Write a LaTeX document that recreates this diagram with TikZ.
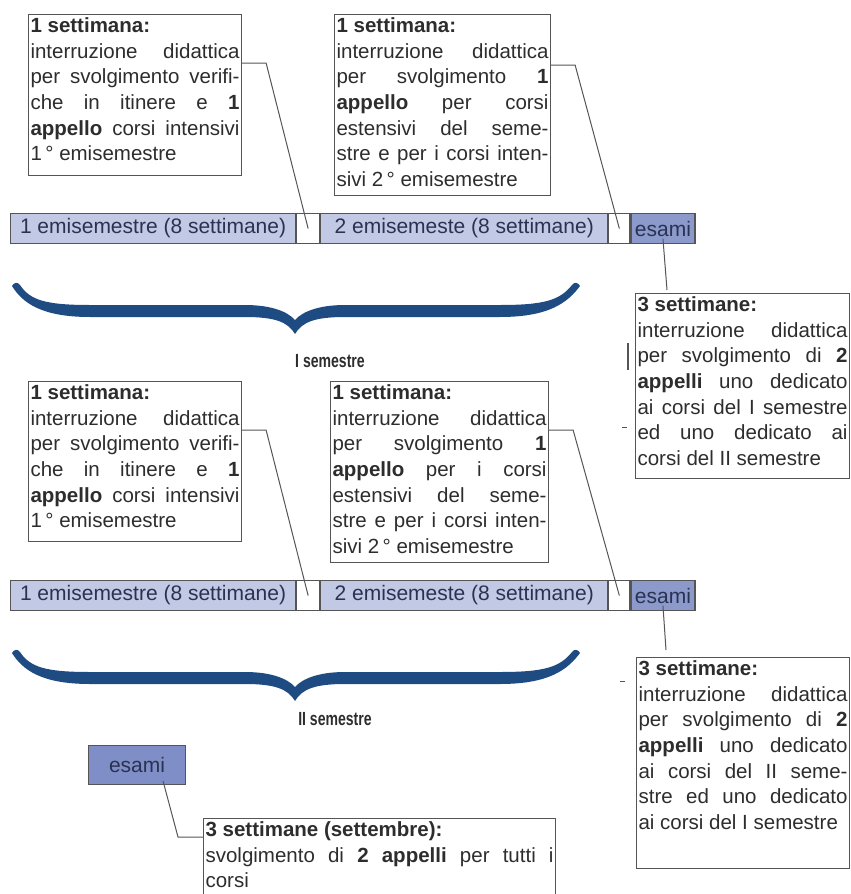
\documentclass[tikz,border=0pt]{standalone}
\usepackage{fontspec}
\setmainfont{Liberation Sans}
\newfontfamily\condbold[FakeStretch=0.74]{Liberation Sans Bold}
\definecolor{barfill}{RGB}{194,201,228}
\definecolor{examfill}{RGB}{140,153,203}
\definecolor{examdark}{RGB}{127,142,198}
\definecolor{boxline}{RGB}{85,85,85}
\definecolor{textgray}{RGB}{45,45,45}
\definecolor{bartext}{RGB}{42,50,82}
\definecolor{bracecol}{RGB}{30,75,130}
\tolerance=10000 \hbadness=10000 \hfuzz=5pt \hyphenpenalty=10000
\begin{document}
\begin{tikzpicture}[x=1pt,y=-1pt,
    infobox/.style={draw=boxline,line width=1.1pt,anchor=north west,align=justify,inner xsep=2pt,inner ysep=3pt,text=textgray,font=\fontsize{20.5}{25.7}\selectfont,text depth=#1},
    seg/.style={draw=boxline,line width=1.1pt,fill=barfill,anchor=north west,minimum height=30pt,inner sep=0pt,text=bartext,font=\fontsize{21}{25}\selectfont},
    gap/.style={seg,fill=white},
    exam/.style={seg,fill=examfill},
    link/.style={draw=boxline,line width=1pt},
    title/.style={font=\condbold\fontsize{19}{22}\selectfont,text=textgray}]
            \clip (0,0) rectangle (851,894);
            \node[infobox=140pt,text width=209pt] (b1) at (28,14) {\textbf{1 settimana:}\\interruzione didattica\linebreak per svolgimento verifi-\linebreak che in itinere e \textbf{1}\linebreak \textbf{appello} corsi intensivi\linebreak 1\,° emisemestre};
            \node[infobox=160pt,text width=212pt] (b2) at (334,14) {\textbf{1 settimana:}\\interruzione didattica\linebreak per svolgimento \textbf{1}\linebreak \textbf{appello} per corsi\linebreak estensivi del seme-\linebreak stre e per i corsi inten-\linebreak sivi 2\,° emisemestre};
            \node[seg,minimum width=285pt] (s1) at (10,213) {1 emisemestre (8 settimane)};
            \node[gap,minimum width=23pt] (g1) at (s1.north east) {};
            \node[seg,minimum width=287pt] (s2) at (g1.north east) {2 emisemeste (8 settimane)};
            \node[gap,minimum width=21pt] (g2) at (s2.north east) {};
            \node[exam,minimum width=64pt] (e1) at (g2.north east) {esami};
            \node[infobox=164pt,text width=210pt] (b3) at (635,293) {\textbf{3 settimane:}\\interruzione didattica\linebreak per svolgimento di \textbf{2}\linebreak \textbf{appelli} uno dedicato\linebreak ai corsi del I semestre\linebreak ed uno dedicato ai\linebreak corsi del II semestre};
            \node[title] (sem1) at (330,361) {I semestre};
            \node[infobox=139pt,text width=209pt] (b4) at (28,381) {\textbf{1 settimana:}\\interruzione didattica\linebreak per svolgimento verifi-\linebreak che in itinere e \textbf{1}\linebreak \textbf{appello} corsi intensivi\linebreak 1\,° emisemestre};
            \node[infobox=160pt,text width=214pt] (b5) at (330,381) {\textbf{1 settimana:}\\interruzione didattica\linebreak per svolgimento \textbf{1}\linebreak \textbf{appello} per i corsi\linebreak estensivi del seme-\linebreak stre e per i corsi inten-\linebreak sivi 2\,° emisemestre};
            \node[seg,minimum width=285pt] (s3) at (10,580) {1 emisemestre (8 settimane)};
            \node[gap,minimum width=23pt] (g3) at (s3.north east) {};
            \node[seg,minimum width=287pt] (s4) at (g3.north east) {2 emisemeste (8 settimane)};
            \node[gap,minimum width=21pt] (g4) at (s4.north east) {};
            \node[exam,minimum width=64pt] (e2) at (g4.north east) {esami};
            \node[infobox=190pt,text width=209pt] (b6) at (636,657) {\textbf{3 settimane:}\\interruzione didattica\linebreak per svolgimento di \textbf{2}\linebreak \textbf{appelli} uno dedicato\linebreak ai corsi del II seme-\linebreak stre ed uno dedicato\linebreak ai corsi del I semestre};
            \node[title] (sem2) at (335,719) {II semestre};
            \node[exam,minimum width=97pt,minimum height=39pt,fill=examdark] (ex) at (88,745) {esami};
            \node[infobox=100pt,text width=348pt] (b7) at (203,818) {\textbf{3 settimane (settembre):}\\svolgimento di \textbf{2 appelli} per tutti i\linebreak corsi};
            \foreach \dy in {0,367}
                \fill[bracecol,shift={(0,\dy)}] (12,286) .. controls (22,302) and (40,317) .. (90,317) -- (245,317) .. controls (275,317) and (288,322) .. (295,334) .. controls (302,322) and (315,317) .. (345,317) -- (500,317) .. controls (550,317) and (568,302) .. (580,286) .. controls (578,282) and (574,282) .. (572,285) .. controls (560,300) and (545,305) .. (500,305) -- (345,305) .. controls (318,305) and (302,312) .. (295,320) .. controls (288,312) and (272,305) .. (245,305) -- (90,305) .. controls (45,305) and (30,300) .. (20,285) .. controls (18,282) and (14,282) .. (12,286) -- cycle;
            \draw[link] (b1.north east) ++(0,49) -- ++(24,0) -- (g1.center);
            \draw[link] (b2.north east) ++(0,51) -- ++(24,0) -- (g2.center);
            \draw[link] ([yshift=-10pt]e1.center) -- ([xshift=32pt,yshift=3pt]b3.north west);
            \draw[link] (b4.north east) ++(0,49) -- ++(24,0) -- (g3.center);
            \draw[link] (b5.north east) ++(0,49) -- ++(24,0) -- (g4.center);
            \draw[link] ([yshift=-10pt]e2.center) -- ([xshift=30pt,yshift=7pt]b6.north west);
            \draw[link] ([xshift=26pt,yshift=4pt]ex.south) -- ([xshift=-25pt,yshift=-19pt]b7.north west) -- ++(25,0);
            \draw[boxline,line width=1.5pt] (628,343) -- (628,370);
            \draw[boxline] (622,427) -- (627,427);
            \draw[boxline] (620,681) -- (625,681);
        \end{tikzpicture}
\end{document}
